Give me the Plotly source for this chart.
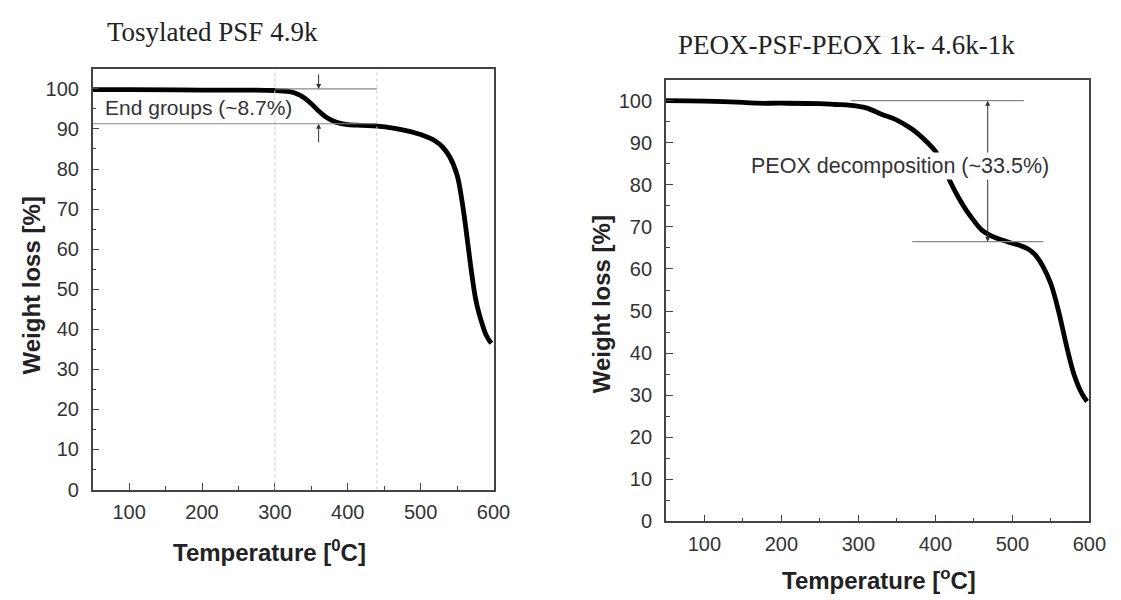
import plotly.graph_objects as go

W, H = 1121, 600

# ---- data ----
temp_left = [50, 100, 200, 300, 320, 330, 340, 350, 360, 370, 380, 390, 400, 420, 440, 460,
             480, 500, 520, 530, 540, 550, 555, 560, 565, 570, 575, 580, 585, 590, 595, 597]
weight_left = [99.8, 99.8, 99.7, 99.6, 99.3, 98.8, 97.8, 96.3, 94.5, 93.0, 92.0, 91.4, 91.1, 90.9, 90.7, 90.3,
               89.6, 88.6, 87.0, 85.5, 83.0, 78.5, 74.0, 68.0, 61.0, 54.0, 48.0, 44.0, 41.0, 38.5, 37.0, 36.5]

temp_right = [50, 100, 150, 170, 200, 250, 270, 290, 310, 330, 350, 370, 390, 400, 410, 420, 430, 440,
              450, 460, 470, 480, 490, 500, 510, 520, 530, 540, 550, 560, 570, 580, 590, 597]
weight_right = [100, 99.9, 99.6, 99.4, 99.4, 99.3, 99.1, 98.9, 98.3, 96.8, 95.4, 93.2, 90.0, 88.0, 84.5, 80.5, 77.0, 74.0,
                71.5, 69.3, 68.1, 67.3, 66.7, 66.1, 65.6, 64.8, 63.3, 60.5, 56.5, 50.0, 42.0, 35.0, 30.5, 28.5]

title_left = "Tosylated PSF 4.9k"
title_right = "PEOX-PSF-PEOX 1k- 4.6k-1k"
label_left = "End groups (~8.7%)"
label_right = "PEOX decomposition (~33.5%)"
end_group_loss = 8.7
peox_loss = 33.5

x_ticks = [100, 200, 300, 400, 500, 600]
y_ticks = [0, 10, 20, 30, 40, 50, 60, 70, 80, 90, 100]

# ---- figure ----
fig = go.Figure()
fig.add_trace(go.Scatter(x=temp_left, y=weight_left, mode="lines", line=dict(color="black", width=4.8, shape="spline"),
                         xaxis="x", yaxis="y", showlegend=False))
fig.add_trace(go.Scatter(x=temp_right, y=weight_right, mode="lines", line=dict(color="black", width=4.8, shape="spline"),
                         xaxis="x2", yaxis="y2", showlegend=False))

def px_dom(a, b, total):
    return [a / total, b / total]

axis_common = dict(
    showline=True, linecolor="#444", linewidth=1.5, mirror=True,
    ticks="inside", ticklen=7, tickwidth=1.3, tickcolor="#444",
    showgrid=False, zeroline=False,
    tickfont=dict(family="Arial, Liberation Sans", size=20, color="#333"),
    minor=dict(ticks="inside", ticklen=4, tickwidth=1.2, tickcolor="#444"),
)

fig.update_layout(
    width=W, height=H,
    margin=dict(l=0, r=0, t=0, b=0),
    paper_bgcolor="white", plot_bgcolor="white",
    xaxis=dict(domain=px_dom(86, 493, W), range=[50, 600], tickvals=x_ticks, anchor="y", **axis_common),
    yaxis=dict(domain=[(H - 490.5) / H, (H - 62) / H], range=[0, 105], tickvals=y_ticks, anchor="x", **axis_common),
    xaxis2=dict(domain=px_dom(668, 1098, W), range=[50, 600], tickvals=x_ticks, anchor="y2", **axis_common),
    yaxis2=dict(domain=[(H - 523) / H, (H - 73) / H], range=[0, 105], tickvals=y_ticks, anchor="x2", **axis_common),
)
fig.update_xaxes(minor_dtick=50, ticklabelstandoff=4)
fig.update_yaxes(minor_dtick=5, ticklabelstandoff=8)

shapes = []
# left panel guides
shapes.append(dict(type="line", xref="x", yref="y", x0=300, x1=300, y0=0, y1=105, line=dict(color="#c8c8c8", width=1, dash="dot")))
shapes.append(dict(type="line", xref="x", yref="y", x0=440, x1=440, y0=0, y1=105, line=dict(color="#c8c8c8", width=1, dash="dot")))
shapes.append(dict(type="line", xref="x", yref="y", x0=300, x1=440, y0=100, y1=100, line=dict(color="#888", width=1.2)))
shapes.append(dict(type="line", xref="x", yref="y", x0=50, x1=440, y0=100 - end_group_loss, y1=100 - end_group_loss, line=dict(color="#888", width=1.2)))
# right panel guides
shapes.append(dict(type="line", xref="x2", yref="y2", x0=290, x1=515, y0=100, y1=100, line=dict(color="#888", width=1.2)))
shapes.append(dict(type="line", xref="x2", yref="y2", x0=370, x1=540, y0=100 - peox_loss, y1=100 - peox_loss, line=dict(color="#888", width=1.2)))
fig.update_layout(shapes=shapes)

ann = []
# left arrows
ann.append(dict(x=360, y=100, ax=360, ay=104, xref="x", yref="y", axref="x", ayref="y", text="", showarrow=True,
                arrowhead=2, arrowsize=1, arrowwidth=1, arrowcolor="#333"))
ann.append(dict(x=360, y=100 - end_group_loss, ax=360, ay=100 - end_group_loss - 5, xref="x", yref="y", axref="x", ayref="y",
                text="", showarrow=True, arrowhead=2, arrowsize=1, arrowwidth=1, arrowcolor="#333"))
ann.append(dict(x=64, y=95.3, xref="x", yref="y", text=label_left, showarrow=False, xanchor="left", yanchor="middle",
                font=dict(family="Arial, Liberation Sans", size=21, color="#333")))
# right arrows
ann.append(dict(x=468, y=100, ax=468, ay=86, xref="x2", yref="y2", axref="x2", ayref="y2", text="", showarrow=True,
                arrowhead=2, arrowsize=1, arrowwidth=1, arrowcolor="#333"))
ann.append(dict(x=468, y=100 - peox_loss, ax=468, ay=82, xref="x2", yref="y2", axref="x2", ayref="y2", text="", showarrow=True,
                arrowhead=2, arrowsize=1, arrowwidth=1, arrowcolor="#333"))
ann.append(dict(x=354, y=84.4, xref="x2", yref="y2", text=label_right, showarrow=False, xanchor="center", yanchor="middle",
                bgcolor="white", borderpad=1, font=dict(family="Arial, Liberation Sans", size=21.5, color="#333")))

# titles
title_font = dict(family="Liberation Serif, Times New Roman", size=27, color="#222")
ann.append(dict(x=208 / W, y=1 - 24 / H, xref="paper", yref="paper", text=title_left, showarrow=False,
                xanchor="center", yanchor="middle", font=title_font))
ann.append(dict(x=851 / W, y=1 - 38 / H, xref="paper", yref="paper", text=title_right, showarrow=False,
                xanchor="center", yanchor="middle", font=title_font))

axis_font = dict(family="Arial, Liberation Sans", size=24, color="#222")
ann.append(dict(x=266 / W, y=1 - 553 / H, xref="paper", yref="paper", text="<b>Temperature [<sup>0</sup>C]</b>", showarrow=False,
                xanchor="center", yanchor="middle", font=axis_font))
ann.append(dict(x=884 / W, y=1 - 582 / H, xref="paper", yref="paper", text="<b>Temperature [<sup>o</sup>C]</b>", showarrow=False,
                xanchor="center", yanchor="middle", font=axis_font))
ann.append(dict(x=24 / W, y=1 - 283 / H, xref="paper", yref="paper", text="<b>Weight loss [%]</b>", showarrow=False,
                textangle=-90, xanchor="center", yanchor="middle", font=axis_font))
ann.append(dict(x=603 / W, y=1 - 302 / H, xref="paper", yref="paper", text="<b>Weight loss [%]</b>", showarrow=False,
                textangle=-90, xanchor="center", yanchor="middle", font=axis_font))
fig.update_layout(annotations=ann)

fig.write_html("out.html")
